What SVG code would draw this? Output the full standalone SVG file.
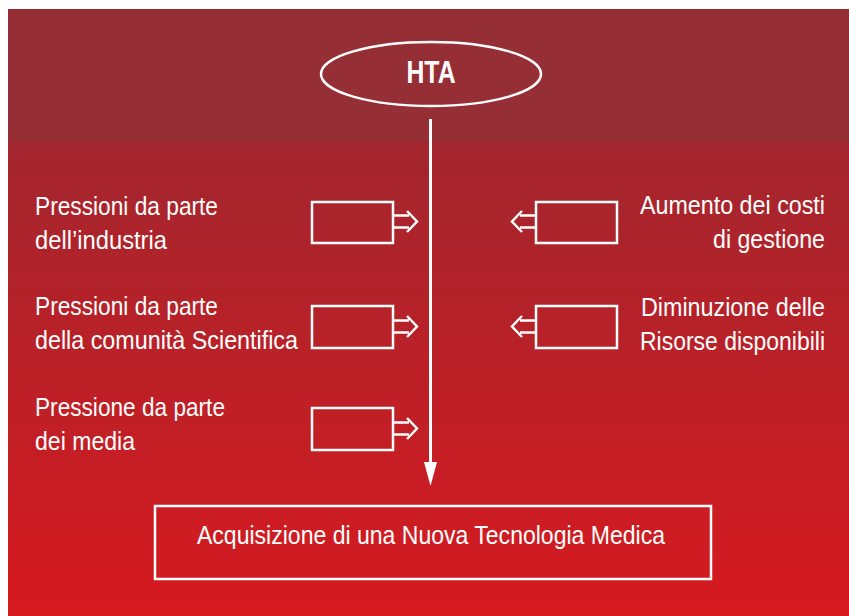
<svg xmlns="http://www.w3.org/2000/svg" width="849" height="616" viewBox="0 0 849 616">
<defs>
<linearGradient id="bg" x1="0" y1="142" x2="0" y2="616" gradientUnits="userSpaceOnUse">
<stop offset="0" stop-color="#A3262E"/>
<stop offset="1" stop-color="#D61A20"/>
</linearGradient>
<style>
.t{font-family:"Liberation Sans",Arial,sans-serif;font-size:26px;fill:#fff}
.tb{font-family:"Liberation Sans",Arial,sans-serif;font-size:32px;font-weight:bold;fill:#fff}
.box{fill:none;stroke:#fff;stroke-width:2.5}
.arr{fill:none;stroke:#fff;stroke-width:2.5;stroke-linejoin:miter}
</style>
</defs>
<rect x="0" y="0" width="849" height="616" fill="#fff"/>
<rect x="8" y="9" width="841" height="607" fill="url(#bg)"/>
<rect x="8" y="9" width="841" height="133" fill="#962E35"/>

<g id="connectors">
<line x1="430.5" y1="119" x2="430.5" y2="466" stroke="#fff" stroke-width="3"/>
<polygon points="424,462 437,462 430.5,486" fill="#fff"/>
</g>

<g id="hta">
<ellipse cx="431" cy="74" rx="110" ry="32" class="box"/>
<text x="431" y="83" class="tb" text-anchor="middle" textLength="49" lengthAdjust="spacingAndGlyphs">HTA</text>
</g>

<g id="industria">
<text class="t" x="35" y="215" textLength="183" lengthAdjust="spacingAndGlyphs">Pressioni da parte</text>
<text class="t" x="35" y="249" textLength="132" lengthAdjust="spacingAndGlyphs">dell’industria</text>
<rect x="312" y="202" width="81" height="41" class="box"/>
<path class="arr" d="M393,215.5 H409 M407,211 L417,221.5 L407,232 M409,227.5 H393"/>
</g>

<g id="comunita">
<text class="t" x="35" y="315" textLength="183" lengthAdjust="spacingAndGlyphs">Pressioni da parte</text>
<text class="t" x="35" y="349" textLength="263" lengthAdjust="spacingAndGlyphs">della comunità Scientifica</text>
<rect x="312" y="306" width="81" height="42" class="box"/>
<path class="arr" d="M393,320.5 H409 M407,316 L417,326.5 L407,337 M409,332.5 H393"/>
</g>

<g id="media">
<text class="t" x="35" y="416" textLength="190" lengthAdjust="spacingAndGlyphs">Pressione da parte</text>
<text class="t" x="35" y="450" textLength="100" lengthAdjust="spacingAndGlyphs">dei media</text>
<rect x="312" y="408" width="81" height="42" class="box"/>
<path class="arr" d="M393,422.5 H409 M407,418 L417,428.5 L407,439 M409,434.5 H393"/>
</g>

<g id="costi">
<text class="t" x="825" y="214" text-anchor="end" textLength="185" lengthAdjust="spacingAndGlyphs">Aumento dei costi</text>
<text class="t" x="825" y="248" text-anchor="end" textLength="112" lengthAdjust="spacingAndGlyphs">di gestione</text>
<rect x="536" y="202" width="81" height="41" class="box"/>
<path class="arr" d="M536,215.5 H520 M522,211 L512,221.5 L522,232 M520,227.5 H536"/>
</g>

<g id="risorse">
<text class="t" x="825" y="316" text-anchor="end" textLength="184" lengthAdjust="spacingAndGlyphs">Diminuzione delle</text>
<text class="t" x="825" y="350" text-anchor="end" textLength="185" lengthAdjust="spacingAndGlyphs">Risorse disponibili</text>
<rect x="536" y="306" width="81" height="42" class="box"/>
<path class="arr" d="M536,320.5 H520 M522,316 L512,326.5 L522,337 M520,332.5 H536"/>
</g>

<g id="acquisizione">
<rect x="155" y="506" width="556" height="73" class="box"/>
<text class="t" x="197" y="544" textLength="468" lengthAdjust="spacingAndGlyphs">Acquisizione di una Nuova Tecnologia Medica</text>
</g>
</svg>
